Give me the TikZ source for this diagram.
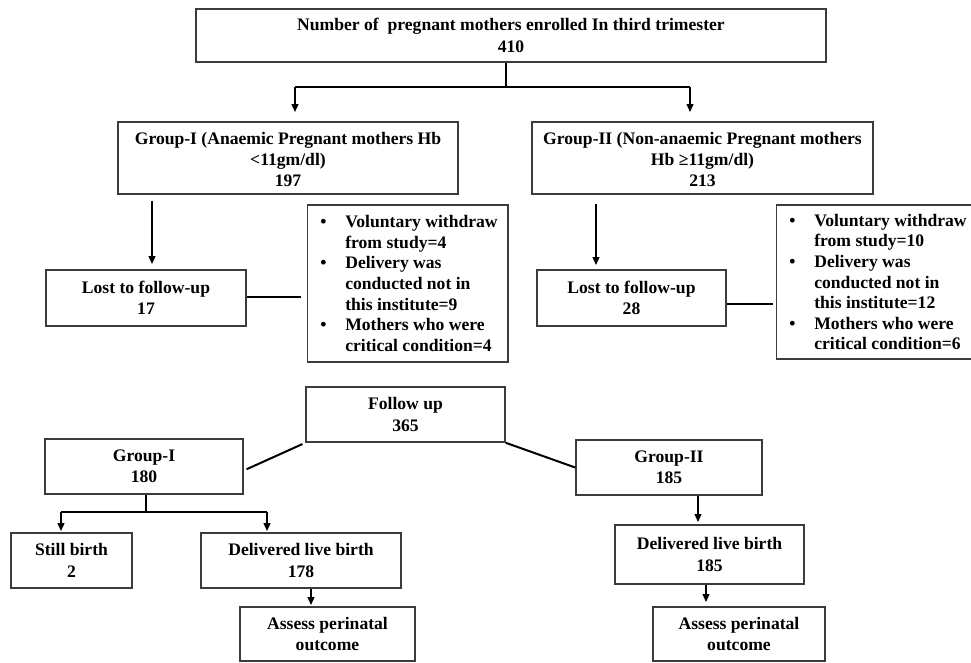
\documentclass[tikz,border=0pt]{standalone}
\usepackage{fontspec}
\setmainfont{Liberation Serif}
\usetikzlibrary{arrows.meta}
\definecolor{boxgray}{HTML}{3C3C3C}
\newcommand{\bpt}{\makebox[28pt][l]{\hspace{3pt}\textbullet}}
\newcommand{\bsp}{\hspace*{28pt}}
\begin{document}
\begin{tikzpicture}[x=1pt,y=-1pt,
  box/.style={draw=boxgray,line width=1.6pt,align=center,inner sep=2pt,
    font=\fontsize{17.6}{21.3}\selectfont\bfseries},
  blist/.style={draw=boxgray,line width=1.6pt,align=left,inner xsep=10pt,inner ysep=2pt,
    font=\fontsize{17.6}{20.6}\selectfont\bfseries},
  conn/.style={line width=2pt,black},
  arr/.style={conn,-{Triangle[length=8pt,width=6.5pt]}}]
\useasboundingbox[fill=white] (0,0) rectangle (971,662);
\clip (0,0) rectangle (971,662);

% nodes
\node[box,minimum width=630,minimum height=53] (top) at (511,35.5)
  {Number of\ \ pregnant mothers enrolled In third trimester\\410};
\node[box,minimum width=340,minimum height=72] (g1) at (288,158)
  {\rule{0pt}{15pt}Group-I (Anaemic Pregnant mothers Hb\\<11gm/dl)\\197};
\node[box,minimum width=341,minimum height=72] (g2) at (702.5,158)
  {\rule{0pt}{15pt}Group-II (Non-anaemic Pregnant mothers\\Hb ≥11gm/dl)\\213};
\node[box,minimum width=200,minimum height=56] (lost1) at (146,298)
  {Lost to follow-up\\17};
\node[box,minimum width=189,minimum height=56] (lost2) at (631.5,298)
  {Lost to follow-up\\28};
\node[blist,minimum width=199,minimum height=157] (bul1) at (407.5,283.5)
  {\bpt Voluntary withdraw\\\bsp from study=4\\\bpt Delivery was\\\bsp conducted not in\\\bsp this institute=9\\\bpt Mothers who were\\\bsp critical condition=4};
\node[blist,minimum width=197,minimum height=154] (bul2) at (876.5,282)
  {\bpt Voluntary withdraw\\\bsp from study=10\\\bpt Delivery was\\\bsp conducted not in\\\bsp this institute=12\\\bpt Mothers who were\\\bsp critical condition=6};
\node[box,minimum width=199,minimum height=55] (fu) at (405.5,414.5)
  {Follow up\\365};
\node[box,minimum width=198,minimum height=55] (gi) at (144,466.5)
  {Group-I\\180};
\node[box,minimum width=186,minimum height=55] (gii) at (669,467.5)
  {Group-II\\185};
\node[box,minimum width=121,minimum height=55] (still) at (71.5,560.5)
  {Still birth\\2};
\node[box,minimum width=200,minimum height=55] (dlb1) at (301,560.5)
  {Delivered live birth\\178};
\node[box,minimum width=189,minimum height=59] (dlb2) at (709.5,554.5)
  {Delivered live birth\\185};
\node[box,minimum width=175,minimum height=54] (ass1) at (327.5,634)
  {Assess perinatal\\outcome};
\node[box,minimum width=172,minimum height=54] (ass2) at (739,634)
  {Assess perinatal\\outcome};

% junction coordinates
\coordinate (j0) at (506,87);
\coordinate (jl) at (295,87);
\coordinate (jr) at (690,87);
\coordinate (x1) at (152,0);
\coordinate (x2) at (596,0);
\coordinate (k0) at (146,512);
\coordinate (kl) at (61,512);
\coordinate (kr) at (267,512);
\coordinate (x3) at (698,0);
\coordinate (x4) at (311,0);
\coordinate (x5) at (706,0);

% connectors
\draw[conn] (j0 |- top.south) -- (j0);
\draw[conn] (jl) -- (jr);
\draw[arr,shorten >=9pt] (jl) -- (jl |- g1.north);
\draw[arr,shorten >=9pt] (jr) -- (jr |- g2.north);
\draw[arr,shorten <=6pt,shorten >=5pt] (x1 |- g1.south) -- (x1 |- lost1.north);
\draw[arr,shorten <=9pt,shorten >=4pt] (x2 |- g2.south) -- (x2 |- lost2.north);
\draw[conn,shorten >=6pt] ([yshift=1pt]lost1.east) -- ([yshift=1pt]lost1.east -| bul1.west);
\draw[conn,shorten >=3pt] ([yshift=-6pt]lost2.east) -- ([yshift=-6pt]lost2.east -| bul2.west);
\draw[conn,shorten <=3pt,shorten >=3pt] (fu.south west) -- ([yshift=-4pt]gi.east);
\draw[conn] (fu.south east) -- (gii.west);
\draw[conn] (k0 |- gi.south) -- (k0);
\draw[conn] (kl) -- (kr);
\draw[arr,shorten >=1pt] (kl) -- (kl |- still.north);
\draw[arr,shorten >=1pt] (kr) -- (kr |- dlb1.north);
\draw[arr,shorten >=2pt] (x3 |- gii.south) -- (x3 |- dlb2.north);
\draw[arr,shorten >=1pt] (x4 |- dlb1.south) -- (x4 |- ass1.north);
\draw[arr,shorten >=4pt] (x5 |- dlb2.south) -- (x5 |- ass2.north);
\end{tikzpicture}
\end{document}
